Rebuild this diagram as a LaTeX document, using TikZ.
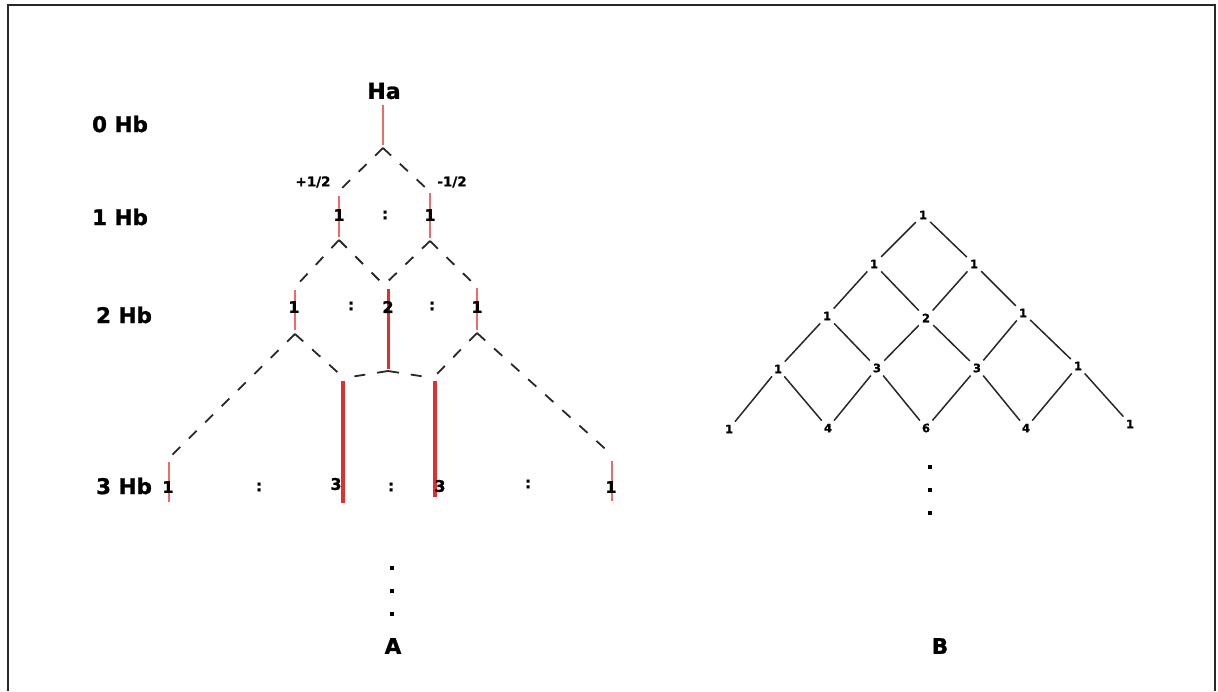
\documentclass[tikz,border=0pt]{standalone}
\usepackage{fontspec}
\setmainfont{DejaVu Sans}[BoldFeatures={FakeBold=1.2}]
\definecolor{lred}{RGB}{240,105,105}
\definecolor{dred}{RGB}{228,45,45}
\definecolor{dgray}{RGB}{40,40,40}
\tikzset{
  dashline/.style={draw=dgray, line width=1.8pt, dash pattern=on 11pt off 12pt},
  thinred/.style={draw=lred, line width=1.6pt},
  midred/.style={draw=dred, line width=3pt},
  thickred/.style={draw=dred, line width=4pt},
  lvl/.style={font=\fontsize{21.5}{24}\selectfont\bfseries, inner sep=0pt},
  big/.style={font=\fontsize{22}{26}\selectfont\bfseries, inner sep=0pt},
  num/.style={font=\fontsize{16}{18}\selectfont\bfseries, inner sep=0pt},
  spin/.style={font=\fontsize{13.5}{16}\selectfont\bfseries, inner sep=0pt},
  bnum/.style={font=\fontsize{11.5}{13}\selectfont\bfseries, inner sep=3pt},
  bline/.style={draw=dgray, line width=1.5pt},
  sqdot/.style={fill=black, minimum size=4.5pt, inner sep=0pt},
  frame/.style={draw=dgray, line width=1.5pt}
}
\begin{document}
\begin{tikzpicture}[x=1pt,y=-1pt]
\useasboundingbox (0,0) rectangle (1218,691);
\draw[frame] (8,691) -- (8,5) -- (1215,5) -- (1215,691);

% level labels
\node[lvl] (h0) at (120,124) {0 Hb};
\node[lvl] (h1) at (120,217) {1 Hb};
\node[lvl] (h2) at (124,315) {2 Hb};
\node[lvl] (h3) at (124,486) {3 Hb};

\node[big] (ha) at (384,91) {Ha};

% red line end points
\coordinate (l0t) at (383,105); \coordinate (l0b) at (383,145);
\coordinate (l1at) at (339,196); \coordinate (l1ab) at (339,237);
\coordinate (l1bt) at (430,193); \coordinate (l1bb) at (430,238);
\coordinate (l2at) at (295,290); \coordinate (l2ab) at (295,330);
\coordinate (l2bt) at (388,289); \coordinate (l2bb) at (388,369);
\coordinate (l2ct) at (477,288); \coordinate (l2cb) at (477,330);
\coordinate (l3at) at (169,462); \coordinate (l3ab) at (169,502);
\coordinate (l3bt) at (343,381); \coordinate (l3bb) at (343,503);
\coordinate (l3ct) at (435,381); \coordinate (l3cb) at (435,497);
\coordinate (l3dt) at (612,461); \coordinate (l3db) at (612,501);

\draw[thinred] (l0t) -- (l0b);
\draw[thinred] (l1at) -- (l1ab);
\draw[thinred] (l1bt) -- (l1bb);
\draw[thinred] (l2at) -- (l2ab);
\draw[midred] (l2bt) -- (l2bb);
\draw[thinred] (l2ct) -- (l2cb);
\draw[thinred] (l3at) -- (l3ab);
\draw[thickred] (l3bt) -- (l3bb);
\draw[thickred] (l3ct) -- (l3cb);
\draw[thinred] (l3dt) -- (l3db);

% dashed branch points
\coordinate (p0) at (383,148);
\coordinate (p1a) at (339,240);
\coordinate (p1b) at (430,241);
\coordinate (p2a) at (295,334);
\coordinate (p2b) at (388,371);
\coordinate (p2c) at (477,333);
\coordinate (e1a) at (340,190);
\coordinate (e1b) at (428,190);
\coordinate (e2a) at (296,286);
\coordinate (e2b) at (384,285);
\coordinate (e2c) at (476,286);
\coordinate (e3a) at (172,455);
\coordinate (e3b) at (344,378);
\coordinate (e3c) at (433,378);
\coordinate (e3d) at (612,455);

\draw[dashline] (p0) -- (e1a);
\draw[dashline] (p0) -- (e1b);
\draw[dashline] (p1a) -- (e2a);
\draw[dashline] (p1a) -- (e2b);
\draw[dashline] (p1b) -- (e2b);
\draw[dashline] (p1b) -- (e2c);
\draw[dashline] (p2a) -- (e3a);
\draw[dashline] (p2a) -- (e3b);
\draw[dashline] (p2b) -- (e3b);
\draw[dashline] (p2b) -- (e3c);
\draw[dashline] (p2c) -- (e3c);
\draw[dashline] (p2c) -- (e3d);

% spin labels
\node[spin] (sp) at (313,182) {+1/2};
\node[spin] (sm) at (452,182) {-1/2};

% numbers of A
\node[num] (a1a) at (339,215) {1};
\node[num] (a1c) at (385,215) {:};
\node[num] (a1b) at (430,215) {1};
\node[num] (a2a) at (294,307) {1};
\node[num] (a2c1) at (351,306) {:};
\node[num] (a2b) at (388,307) {2};
\node[num] (a2c2) at (432,306) {:};
\node[num] (a2c) at (477,307) {1};
\node[num] (a3a) at (168,487) {1};
\node[num] (a3c1) at (259,487) {:};
\node[num] (a3b) at (336,484) {3};
\node[num] (a3c2) at (391,487) {:};
\node[num] (a3c) at (440,486) {3};
\node[num] (a3c3) at (528,484) {:};
\node[num] (a3d) at (611,487) {1};

\node[sqdot] (ad1) at (392,568) {};
\node[sqdot] (ad2) at (392,591) {};
\node[sqdot] (ad3) at (392,614) {};
\node[lvl] (la) at (393,646) {A};

% Pascal triangle B
\node[bnum] (b00) at (923,215) {1};
\node[bnum] (b10) at (874,264) {1};
\node[bnum] (b11) at (974,264) {1};
\node[bnum] (b20) at (827,316) {1};
\node[bnum] (b21) at (926,318) {2};
\node[bnum] (b22) at (1023,313) {1};
\node[bnum] (b30) at (778,369) {1};
\node[bnum] (b31) at (877,368) {3};
\node[bnum] (b32) at (977,368) {3};
\node[bnum] (b33) at (1078,366) {1};
\node[bnum] (b40) at (729,429) {1};
\node[bnum] (b41) at (828,428) {4};
\node[bnum] (b42) at (926,428) {6};
\node[bnum] (b43) at (1026,428) {4};
\node[bnum] (b44) at (1130,424) {1};

\draw[bline] (b00) -- (b10);
\draw[bline] (b00) -- (b11);
\draw[bline] (b10) -- (b20);
\draw[bline] (b10) -- (b21);
\draw[bline] (b11) -- (b21);
\draw[bline] (b11) -- (b22);
\draw[bline] (b20) -- (b30);
\draw[bline] (b20) -- (b31);
\draw[bline] (b21) -- (b31);
\draw[bline] (b21) -- (b32);
\draw[bline] (b22) -- (b32);
\draw[bline] (b22) -- (b33);
\draw[bline] (b30) -- (b40);
\draw[bline] (b30) -- (b41);
\draw[bline] (b31) -- (b41);
\draw[bline] (b31) -- (b42);
\draw[bline] (b32) -- (b42);
\draw[bline] (b32) -- (b43);
\draw[bline] (b33) -- (b43);
\draw[bline] (b33) -- (b44);

\node[sqdot] (bd1) at (930,467) {};
\node[sqdot] (bd2) at (930,490) {};
\node[sqdot] (bd3) at (930,513) {};
\node[lvl] (lb) at (940,646) {B};
\end{tikzpicture}
\end{document}
